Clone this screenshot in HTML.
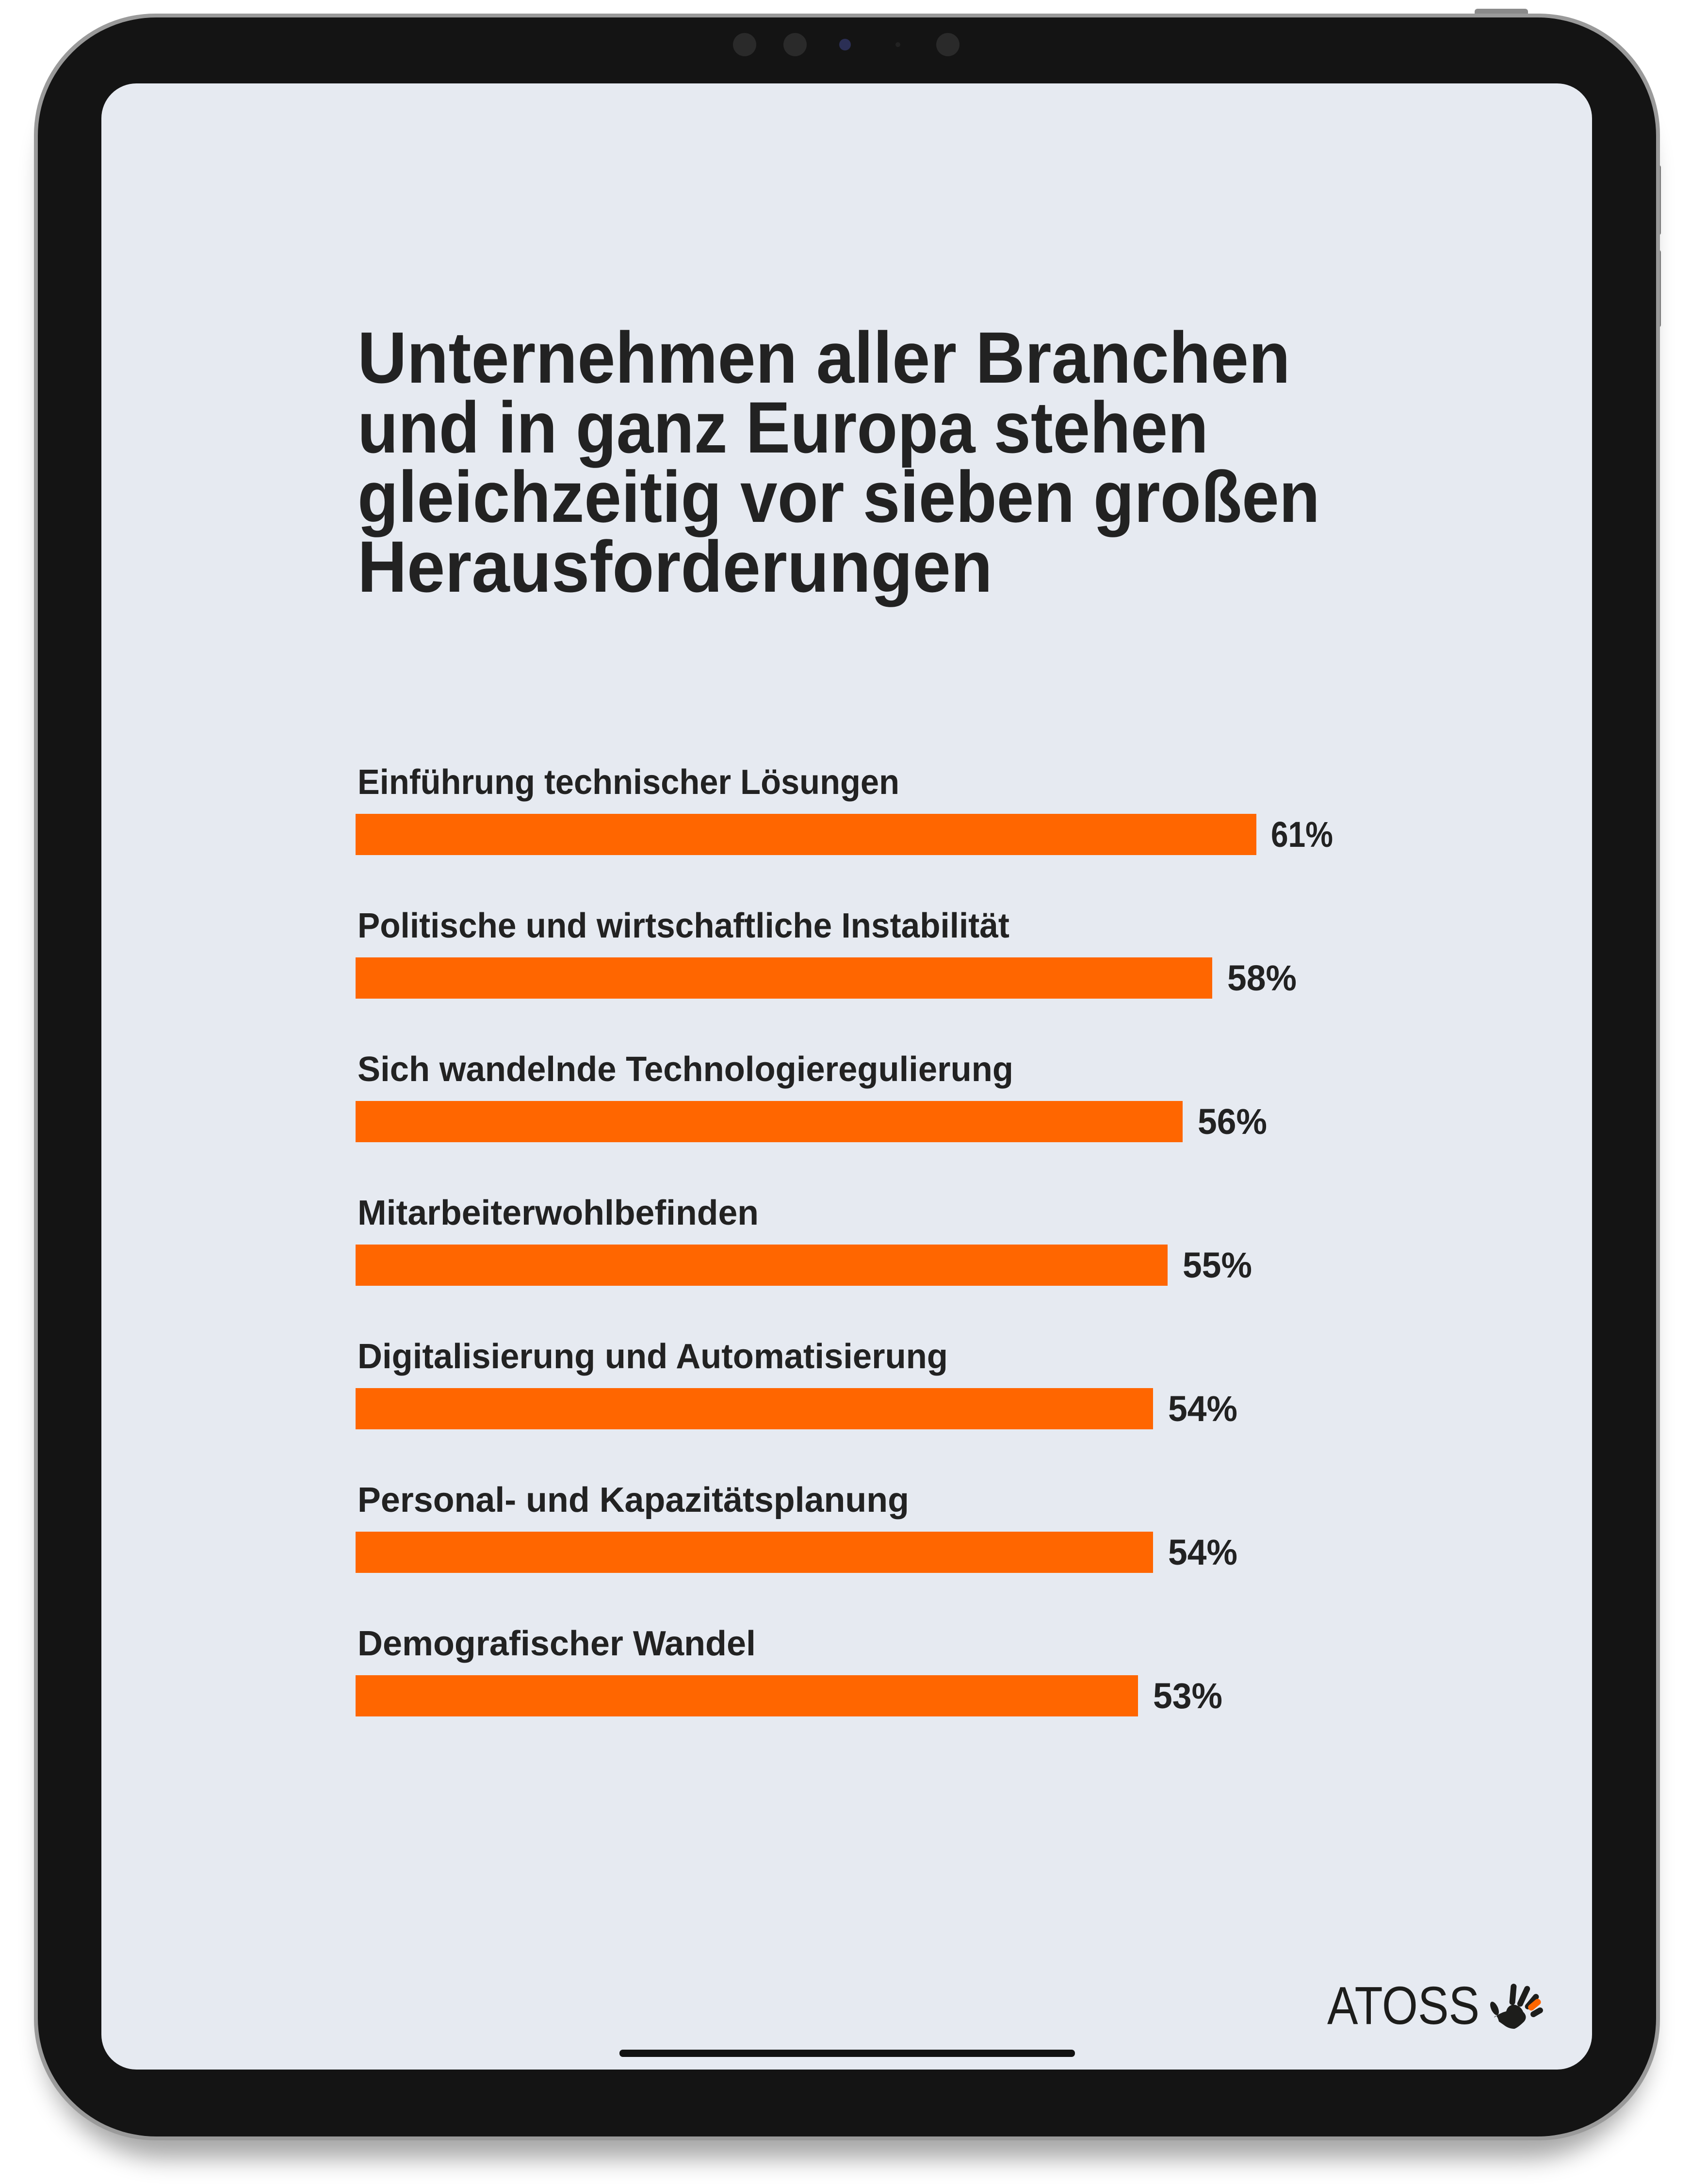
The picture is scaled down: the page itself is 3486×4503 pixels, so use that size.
<!DOCTYPE html>
<html><head><meta charset="utf-8"><style>
html,body{margin:0;padding:0;background:#fff;}
svg{display:block;}
</style></head><body>
<svg width="3486" height="4503" viewBox="0 0 3486 4503" xmlns="http://www.w3.org/2000/svg">
<defs>
<filter id="sh" x="-10%" y="-10%" width="120%" height="120%"><feGaussianBlur stdDeviation="25"/></filter>
</defs>
<rect width="3486" height="4503" fill="#fff"/>
<!-- shadow -->
<rect x="90" y="110" width="3310" height="4340" rx="250" fill="#000" opacity="0.35" filter="url(#sh)"/>
<!-- side buttons -->
<rect x="3040" y="18" width="110" height="16" rx="6" fill="#8a8a8a"/>
<rect x="3410" y="340" width="14" height="145" rx="5" fill="#777"/>
<rect x="3410" y="515" width="14" height="160" rx="5" fill="#777"/>
<!-- frame -->
<rect x="70" y="28" width="3352" height="4385" rx="250" fill="#9a9a9a"/>
<rect x="78" y="36" width="3336" height="4369" rx="244" fill="#141414"/>
<!-- cameras -->
<circle cx="1535" cy="92" r="24" fill="#2a2a2a"/>
<circle cx="1639" cy="92" r="24" fill="#2a2a2a"/>
<circle cx="1742" cy="92" r="12" fill="#2b2f55"/>
<circle cx="1851" cy="92" r="5" fill="#222"/>
<circle cx="1954" cy="92" r="24" fill="#2a2a2a"/>
<!-- screen -->
<rect x="209" y="172" width="3073" height="4095" rx="72" fill="#e6eaf1"/>
<!-- title -->
<g font-family="Liberation Sans, sans-serif" font-weight="bold" font-size="150" fill="#222">
<text x="737" y="789" textLength="1923" lengthAdjust="spacingAndGlyphs">Unternehmen aller Branchen</text>
<text x="737" y="933" textLength="1754" lengthAdjust="spacingAndGlyphs">und in ganz Europa stehen</text>
<text x="737" y="1076" textLength="1984" lengthAdjust="spacingAndGlyphs">gleichzeitig vor sieben großen</text>
<text x="737" y="1220" textLength="1309" lengthAdjust="spacingAndGlyphs">Herausforderungen</text>
</g>
<!-- bars -->
<g font-family="Liberation Sans, sans-serif" font-weight="bold" fill="#222">
<g font-size="72">
<text x="737" y="1637" textLength="1117" lengthAdjust="spacingAndGlyphs">Einführung technischer Lösungen</text>
<text x="737" y="1933" textLength="1344" lengthAdjust="spacingAndGlyphs">Politische und wirtschaftliche Instabilität</text>
<text x="737" y="2229" textLength="1352" lengthAdjust="spacingAndGlyphs">Sich wandelnde Technologieregulierung</text>
<text x="737" y="2525" textLength="827" lengthAdjust="spacingAndGlyphs">Mitarbeiterwohlbefinden</text>
<text x="737" y="2821" textLength="1217" lengthAdjust="spacingAndGlyphs">Digitalisierung und Automatisierung</text>
<text x="737" y="3117" textLength="1137" lengthAdjust="spacingAndGlyphs">Personal- und Kapazitätsplanung</text>
<text x="737" y="3413" textLength="821" lengthAdjust="spacingAndGlyphs">Demografischer Wandel</text>
</g>
<g fill="#ff6600">
<rect x="733" y="1678" width="1857" height="85"/>
<rect x="733" y="1974" width="1766" height="85"/>
<rect x="733" y="2270" width="1705" height="85"/>
<rect x="733" y="2566" width="1674" height="85"/>
<rect x="733" y="2862" width="1644" height="85"/>
<rect x="733" y="3158" width="1644" height="85"/>
<rect x="733" y="3454" width="1613" height="85"/>
</g>
<g font-size="74">
<text x="2620" y="1746" textLength="128" lengthAdjust="spacingAndGlyphs">61%</text>
<text x="2530" y="2042" textLength="143" lengthAdjust="spacingAndGlyphs">58%</text>
<text x="2469" y="2338" textLength="143" lengthAdjust="spacingAndGlyphs">56%</text>
<text x="2438" y="2634" textLength="143" lengthAdjust="spacingAndGlyphs">55%</text>
<text x="2408" y="2930" textLength="143" lengthAdjust="spacingAndGlyphs">54%</text>
<text x="2408" y="3226" textLength="143" lengthAdjust="spacingAndGlyphs">54%</text>
<text x="2377" y="3522" textLength="143" lengthAdjust="spacingAndGlyphs">53%</text>
</g>
</g>
<!-- logo -->
<text x="2736" y="4173" font-family="Liberation Sans, sans-serif" font-size="110" fill="#1d1d1b" textLength="314" lengthAdjust="spacingAndGlyphs">ATOSS</text>
<g fill="#1d1d1b">
<path d="M3090 4168 Q3085 4150 3080 4160 Q3092 4150 3105 4147 Q3108 4135 3120 4133 Q3135 4135 3140 4148 Q3150 4158 3142 4168 Q3130 4180 3122 4183 Q3110 4183 3100 4175 Z"/>
<ellipse cx="3081" cy="4141" rx="7" ry="15" transform="rotate(-25 3081 4141)"/>
<rect x="3113" y="4090" width="12" height="44" rx="6" transform="rotate(5 3119 4112)"/>
<rect x="3135" y="4093" width="12" height="46" rx="6" transform="rotate(25 3141 4116)"/>
<rect x="3152" y="4108" width="12" height="38" rx="6" transform="rotate(40 3158 4127)"/>
<rect x="3162" y="4135" width="12" height="28" rx="6" transform="rotate(60 3168 4149)"/>
</g>
<rect x="3157" y="4118" width="13" height="30" rx="6" fill="#ff6600" transform="rotate(50 3163 4133)"/>
<!-- home indicator -->
<rect x="1277" y="4226" width="939" height="15" rx="7" fill="#111"/>
</svg>
</body></html>
